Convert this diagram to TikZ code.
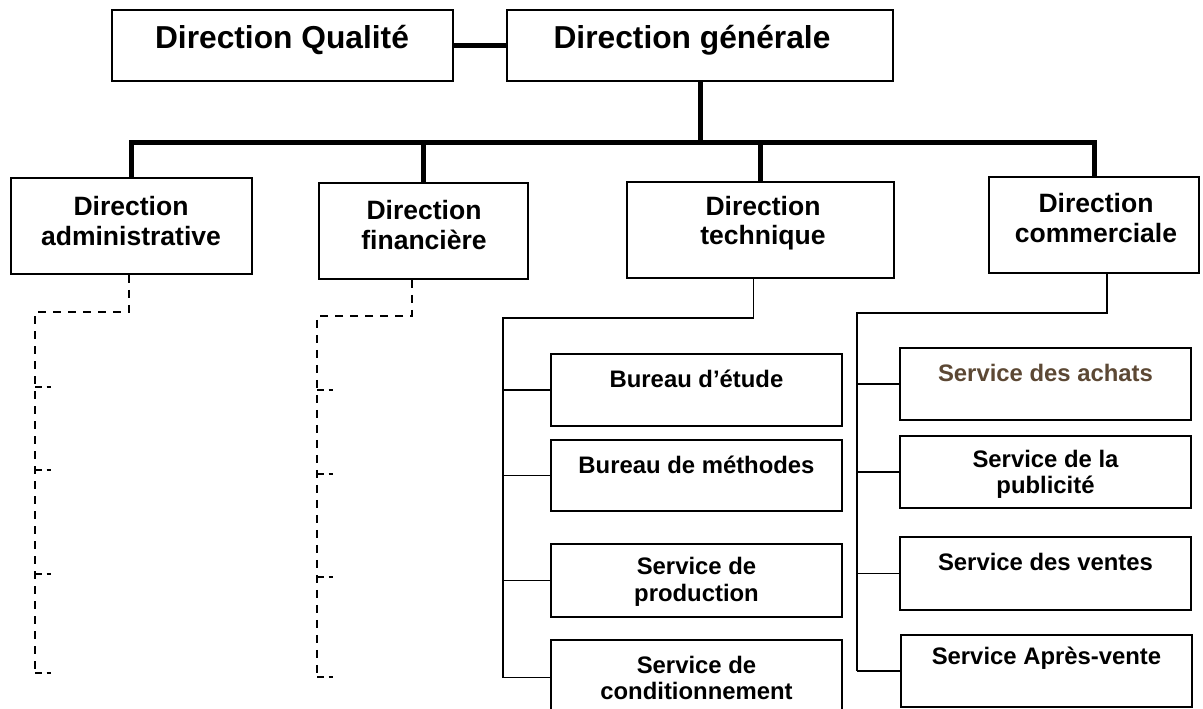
\documentclass[tikz,border=0pt]{standalone}
\usepackage{fontspec}
\setmainfont{Liberation Sans}
\definecolor{achatbrown}{RGB}{92,72,52}
\begin{document}
\begin{tikzpicture}[
	x=0.75pt, y=-0.75pt,
	box/.style={draw, line width=1.5pt, inner sep=0pt},
	toptext/.style={inner sep=0pt, align=center, font=\fontsize{23.8}{27}\selectfont\bfseries},
	dirtext/.style={inner sep=0pt, align=center, font=\fontsize{19.9}{22.2}\selectfont\bfseries},
	servtext/.style={inner sep=0pt, align=center, font=\fontsize{17.9}{19.8}\selectfont\bfseries},
	thickline/.style={line width=3.75pt},
	thinline/.style={line width=1.3pt},
	dashline/.style={line width=1.3pt, dash pattern=on 6pt off 5.25pt},
	tickline/.style={line width=1.3pt, dash pattern=on 5pt off 3.75pt on 3.5pt off 9pt}
	]
	\useasboundingbox (0,0) rectangle (1203,709);
	\def\servw{218.25pt}
	
	% top level
	\node[box, minimum width=255.75pt, minimum height=53.25pt] (dq) at (282.5,45.5) {};
	\node[toptext] (dqt) at (282,40) {Direction Qualité};
	\node[box, minimum width=289.5pt, minimum height=53.25pt] (dg) at (700,45.5) {};
	\node[toptext] (dgt) at (692,40) {Direction générale};
	
	% directions
	\node[box, minimum width=180.75pt, minimum height=72pt] (da) at (131.5,226) {};
	\node[dirtext] (dat) at (131,221) {Direction\\administrative};
	\node[box, minimum width=156.75pt, minimum height=72pt] (df) at (423.5,231) {};
	\node[dirtext] (dft) at (424,225) {Direction\\financière};
	\node[box, minimum width=200.25pt, minimum height=72pt] (dt) at (760.5,230) {};
	\node[dirtext] (dtt) at (763,223) {Direction\\technique};
	\node[box, minimum width=157.5pt, minimum height=72pt] (dc) at (1094,225) {};
	\node[dirtext] (dct) at (1096,218) {Direction\\commerciale};
	
	% services of the technical direction
	\node[box, minimum width=\servw, minimum height=54pt] (be) at (696.5,390) {};
	\node[servtext] (bet) at (696.5,379) {Bureau d’étude};
	\node[box, minimum width=\servw, minimum height=53.25pt] (bm) at (696.5,475.5) {};
	\node[servtext] (bmt) at (696.5,465) {Bureau de méthodes};
	\node[box, minimum width=\servw, minimum height=54.75pt] (sp) at (696.5,580.5) {};
	\node[servtext] (spt) at (696.5,582) {Service de\\production};
	\node[box, minimum width=\servw, minimum height=56.25pt] (sc) at (696.5,677.5) {};
	\node[servtext] (sct) at (696.5,678) {Service de\\conditionnement};
	
	% services of the commercial direction
	\node[box, minimum width=\servw, minimum height=54pt] (sa) at (1045.5,384) {};
	\node[servtext, text=achatbrown] (sat) at (1045.5,373) {Service des achats};
	\node[box, minimum width=\servw, minimum height=54pt] (sl) at (1045.5,472) {};
	\node[servtext] (slt) at (1045.5,474.5) {Service de la\\publicité};
	\node[box, minimum width=\servw, minimum height=54.75pt] (sv) at (1045.5,573.5) {};
	\node[servtext] (svt) at (1045.5,562) {Service des ventes};
	\node[box, minimum width=\servw, minimum height=54pt] (sav) at (1046.5,671) {};
	\node[servtext] (savt) at (1046.5,658) {Service Après-vente};
	
	% thick links
	\coordinate (bar) at (0,143);
	\draw[thickline] (dq.east) -- (dg.west);
	\draw[thickline] (dg.south) -- (dg.south |- bar);
	\draw[thickline] (da.north) -- (da.north |- bar) -- (dc.north |- bar) -- (dc.north);
	\draw[thickline] (df.north) -- (df.north |- bar);
	\draw[thickline] (dt.north) -- (dt.north |- bar);
	
	% thin links
	\coordinate (dtsp) at (503,318);
	\draw[thinline] ([xshift=-5.25pt]dt.south) |- (dtsp) -- (dtsp |- sc.west);
	\foreach \n in {be,bm,sp,sc}
		\draw[thinline] (dtsp |- \n.west) -- (\n.west);
	\coordinate (dcsp) at (857,313);
	\draw[thinline] ([xshift=9.75pt]dc.south) |- (dcsp) -- (dcsp |- sav.west);
	\foreach \n in {sa,sl,sv,sav}
		\draw[thinline] (dcsp |- \n.west) -- (\n.west);
	
	% dashed links
	\coordinate (dasp) at (35,312);
	\draw[dashline] ([xshift=-1.9pt]da.south) |- (dasp) -- (35,673);
	\foreach \y in {387,470,574,673}
		\draw[tickline] (dasp |- 0,\y) -- ++(17,0);
	\coordinate (dfsp) at (317,316);
	\draw[dashline] ([xshift=-8.6pt]df.south) |- (dfsp) -- (317,677);
	\foreach \y in {390,474,577,677}
		\draw[tickline] (dfsp |- 0,\y) -- ++(18,0);
\end{tikzpicture}
\end{document}
